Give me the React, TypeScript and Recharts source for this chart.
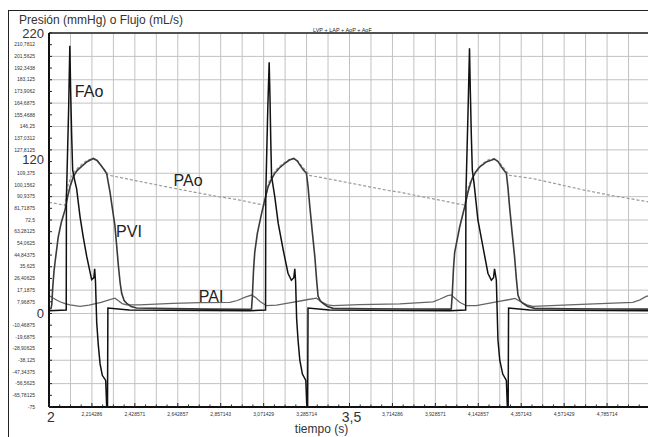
import React from 'react';
import { LineChart, Line, XAxis, YAxis, CartesianGrid, ReferenceDot } from 'recharts';

// [tiempo (s), valor]
const pviPoints: [number, number][] = [
  [2.0, 2.3], [2.01, 2.6], [2.014, 6], [2.019, 20], [2.025, 32], [2.03, 39], [2.046, 59], [2.062, 71],
  [2.08, 80.5], [2.093, 91], [2.105, 98.8], [2.121, 106.5], [2.14, 111.5], [2.163, 114.8], [2.19, 118.5],
  [2.221, 121], [2.24, 119.5], [2.26, 115.5], [2.278, 111.5], [2.288, 109], [2.296, 102], [2.304, 95],
  [2.316, 82], [2.329, 68], [2.338, 52], [2.346, 37], [2.355, 23], [2.363, 14.5], [2.375, 9], [2.388, 6.8],
  [2.41, 4.2], [2.437, 3.1], [2.6, 2.6], [2.8, 2.2], [3.0, 2.1],
  [3.011, 2.3], [3.015, 12], [3.021, 33], [3.027, 47], [3.04, 62], [3.061, 77.5], [3.078, 89], [3.094, 98.8],
  [3.11, 104.5], [3.127, 109.3], [3.15, 113.5], [3.177, 117.2], [3.2, 119.8], [3.222, 121.1], [3.24, 119],
  [3.252, 116], [3.27, 112], [3.285, 109.3], [3.293, 99], [3.302, 83], [3.315, 62], [3.327, 43.5],
  [3.336, 25], [3.343, 12.5], [3.355, 8.5], [3.368, 6.8], [3.39, 4.2], [3.418, 2.8], [3.6, 2.5], [3.8, 2.3],
  [4.0, 2.2],
  [4.008, 2.3], [4.013, 14], [4.019, 34], [4.025, 47], [4.05, 67], [4.075, 83], [4.092, 95], [4.108, 103.5],
  [4.128, 110], [4.15, 114.5], [4.185, 118.5], [4.224, 120.6], [4.242, 118.5], [4.258, 114.5], [4.272, 111.5],
  [4.283, 109.3], [4.291, 98], [4.299, 83], [4.312, 62], [4.324, 43.5], [4.333, 26], [4.341, 13.3],
  [4.352, 8.8], [4.366, 6.8], [4.39, 4.3], [4.424, 2.8], [4.6, 2.5], [4.8, 2.3], [5.0, 2.2],
];

const paoPoints: [number, number][] = [
  [2.0, 86.5], [2.04, 85.3], [2.079, 84], [2.086, 92], [2.095, 100], [2.105, 104.5], [2.121, 109.3],
  [2.145, 114], [2.171, 117.5], [2.195, 120], [2.221, 121], [2.245, 118.5], [2.265, 114.5], [2.28, 111.5],
  [2.29, 109.5], [2.294, 108], [2.4, 104.6], [2.55, 99.8], [2.7, 95.2], [2.85, 90.8], [2.953, 88.2],
  [3.03, 85.6], [3.077, 84.2],
  [3.086, 93], [3.094, 100.5], [3.102, 105], [3.127, 111], [3.15, 114.8], [3.177, 118], [3.2, 120.2],
  [3.222, 121.1], [3.245, 118.5], [3.265, 114.5], [3.285, 110.8], [3.293, 109.3], [3.296, 107.8],
  [3.4, 104.8], [3.55, 100.2], [3.7, 95.6], [3.751, 94.5], [3.85, 91.2], [3.95, 88.2], [4.03, 85.6],
  [4.075, 84.3],
  [4.085, 93], [4.095, 100], [4.116, 106.6], [4.14, 112], [4.166, 117.2], [4.195, 120.2], [4.224, 121.1],
  [4.248, 118], [4.266, 114.5], [4.283, 110.8], [4.291, 109.3], [4.295, 107.8], [4.415, 105.2],
  [4.55, 100.4], [4.665, 96.3], [4.8, 92.1], [4.9, 89.3], [5.0, 86.6],
];

const paiPoints: [number, number][] = [
  [2.0, 12], [2.006, 12.4], [2.02, 11], [2.04, 9.2], [2.055, 8], [2.08, 6.5], [2.105, 5.5], [2.155, 4.3],
  [2.2, 5.4], [2.26, 7.6], [2.3, 9.5], [2.329, 10.8], [2.345, 9], [2.365, 6.6], [2.388, 5.5], [2.45, 5.6],
  [2.618, 6.8], [2.753, 7.3], [2.903, 7.5], [2.94, 9], [2.98, 11.6], [3.011, 13.3],
  [3.03, 11.5], [3.055, 8], [3.086, 4.9], [3.136, 5.4], [3.2, 7.2], [3.26, 8.8], [3.3, 10], [3.335, 10.8],
  [3.36, 8], [3.39, 5.6], [3.418, 4.9], [3.55, 5.8], [3.751, 6.4], [3.917, 7.9], [3.95, 10], [3.99, 12.8],
  [4.008, 13.4], [4.025, 11], [4.05, 7.6], [4.083, 4.9], [4.133, 4.9], [4.233, 8], [4.3, 9.8], [4.326, 10.7],
  [4.355, 8], [4.385, 5.6], [4.415, 4.4], [4.657, 6], [4.914, 7.6], [4.95, 9.5], [4.981, 12.2], [5.0, 13],
];

const faoPoints: [number, number][] = [
  [2.0, 1], [2.086, 1.5], [2.087, 90], [2.098, 160], [2.104, 210], [2.108, 175], [2.113, 140], [2.118, 112],
  [2.128, 104], [2.138, 97], [2.155, 75], [2.171, 59], [2.188, 44], [2.204, 32], [2.213, 25.5], [2.224, 27],
  [2.228, 34], [2.232, 24], [2.238, -8], [2.246, -26], [2.255, -41], [2.266, -50], [2.283, -54], [2.288, -75],
  [2.292, -75], [2.294, 3], [2.4, 1.5], [3.0, 1],
  [3.081, 1.5], [3.082, 92], [3.092, 160], [3.099, 197], [3.103, 170], [3.107, 135], [3.111, 107],
  [3.127, 91], [3.144, 70], [3.169, 49], [3.193, 30.5], [3.21, 25], [3.222, 27], [3.227, 34], [3.231, 24],
  [3.236, -5], [3.243, -22], [3.252, -38], [3.265, -49], [3.282, -54], [3.287, -75], [3.291, -75],
  [3.293, 3], [3.4, 1.5], [4.0, 1],
  [4.08, 1.5], [4.081, 92], [4.092, 160], [4.099, 208], [4.103, 175], [4.108, 140], [4.113, 112],
  [4.122, 101], [4.141, 72.5], [4.166, 51.5], [4.191, 30.5], [4.208, 25], [4.219, 27], [4.224, 34],
  [4.233, 25], [4.241, -22], [4.25, -38], [4.265, -49], [4.283, -54], [4.288, -75], [4.292, -75],
  [4.294, 3], [4.4, 1.5], [5.0, 1],
];

const yTicks = [
  -75, -65.78125, -56.5625, -47.34375, -38.125, -28.90625, -19.6875, -10.46875, -1.25, 7.96875, 17.1875,
  26.40625, 35.625, 44.84375, 54.0625, 63.28125, 72.5, 81.71875, 90.9375, 100.15625, 109.375, 118.59375,
  127.8125, 137.03125, 146.25, 155.46875, 164.6875, 173.90625, 183.125, 192.34375, 201.5625, 210.78125, 220,
];
const yTickLabels = [
  '-75', '-65,78125', '-56,5625', '-47,34375', '-38,125', '-28,90625', '-19,6875', '-10,46875', '0', '7,96875',
  '17,1875', '26,40625', '35,625', '44,84375', '54,0625', '63,28125', '72,5', '81,71875', '90,9375',
  '100,1562', '109,375', '120', '127,8125', '137,0312', '146,25', '155,4688', '164,6875', '173,9062',
  '183,125', '192,3438', '201,5625', '210,7812', '220',
];
const bigYLabels = ['220', '120', '0'];

const xLabelTicks = [
  2, 2.214286, 2.428571, 2.642857, 2.857143, 3.071429, 3.285714, 3.5, 3.714286, 3.928571, 4.142857,
  4.357143, 4.571429, 4.785714, 5,
];
const xTickLabels = [
  '2', '2,214286', '2,428571', '2,642857', '2,857143', '3,071429', '3,285714', '3,5', '3,714286',
  '3,928571', '4,142857', '4,357143', '4,571429', '4,785714', '5',
];
const bigXLabels = ['2', '3,5', '5'];

const seriesNames = [
  { name: 'FAo', t: 2.2, v: 174 },
  { name: 'PAo', t: 2.694, v: 104 },
  { name: 'PVI', t: 2.399, v: 63.4 },
  { name: 'PAI', t: 2.809, v: 12.6 },
];

const FONT = '"Liberation Sans", Arial, sans-serif';
const xMinor = Array.from({ length: 57 }, (_, i) => 2 + (i * 1.5) / 28);
const xGrid = Array.from({ length: 29 }, (_, i) => 2 + (i * 1.5) / 14);
const yGrid = Array.from({ length: 17 }, (_, i) => -75 + i * 18.4375);

const rows = (pts: [number, number][]) => pts.map(([t, v]) => ({ t, v }));

const BottomTick = (props: any) => {
  const { x, y, payload } = props;
  const i = xLabelTicks.findIndex((v) => Math.abs(v - payload.value) < 1e-4);
  const label = i >= 0 ? xTickLabels[i] : null;
  const big = label !== null && bigXLabels.includes(label);
  return (
    <g>
      <line x1={x} x2={x} y1={y - (label ? 4 : 2.5)} y2={y} stroke="#222" strokeWidth={1} />
      {label && (
        <text
          x={x + (big ? 2 : 0)}
          y={y + (big ? 14.5 : 9)}
          textAnchor="middle"
          fontSize={big ? 14 : 5}
          fill="#333"
          fontFamily={FONT}
        >
          {label}
        </text>
      )}
    </g>
  );
};

const TopTick = (props: any) => {
  const { x, y } = props;
  return <line x1={x} x2={x} y1={y} y2={y + 3} stroke="#222" strokeWidth={1} />;
};

const LeftTick = (props: any) => {
  const { x, y, payload } = props;
  const i = yTicks.findIndex((v) => Math.abs(v - payload.value) < 1e-6);
  const label = yTickLabels[i];
  const big = bigYLabels.includes(label);
  return (
    <g>
      <line x1={x} x2={x + 3} y1={y} y2={y} stroke="#222" strokeWidth={1} />
      <text
        x={big ? x - 5 : x - 14}
        y={y + (big ? 4.5 : 1.7) + (label === '120' ? -2 : 0)}
        textAnchor="end"
        fontSize={big ? 13 : 5}
        fill="#333"
        fontFamily={FONT}
      >
        {label}
      </text>
    </g>
  );
};

export default function App() {
  return (
    <div style={{ position: 'relative', width: 648, height: 437, overflow: 'hidden', background: '#fff', fontFamily: FONT }}>
      <style>{'body{margin:0}'}</style>
      <div style={{ position: 'absolute', left: 8, top: 10, width: 700, height: 500, border: '1px solid #222' }} />
      <div style={{ position: 'absolute', left: 19, top: 14, fontSize: 12, lineHeight: '12px', color: '#333', whiteSpace: 'nowrap' }}>
        Presión (mmHg) o Flujo (mL/s)
      </div>
      <div style={{ position: 'absolute', left: 313, top: 28, fontSize: 5.5, lineHeight: '5px', color: '#222', whiteSpace: 'nowrap' }}>
        LVP + LAP + AoP + AoF
      </div>
      <div style={{ position: 'absolute', left: 0, top: 0 }}>
        <LineChart width={660} height={437} margin={{ top: 32, right: 10, left: 0, bottom: 0 }}>
          <CartesianGrid stroke="#c2c2c2" strokeWidth={1} horizontalValues={yGrid} verticalValues={xGrid} />
          <XAxis
            dataKey="t"
            type="number"
            domain={[2, 5]}
            ticks={xMinor}
            interval={0}
            height={30}
            tickSize={0}
            tickMargin={0}
            tickLine={false}
            tick={<BottomTick />}
            axisLine={{ stroke: '#111', strokeWidth: 2 }}
            label={{ value: 'tiempo (s)', position: 'insideBottom', offset: 4, dx: -28, fontSize: 12, fill: '#333' }}
          />
          <XAxis
            xAxisId="top"
            orientation="top"
            dataKey="t"
            type="number"
            domain={[2, 5]}
            ticks={xMinor}
            interval={0}
            height={1}
            tickSize={0}
            tickMargin={0}
            tickLine={false}
            tick={<TopTick />}
            axisLine={{ stroke: '#222', strokeWidth: 1.5 }}
          />
          <YAxis
            type="number"
            domain={[-75, 220]}
            ticks={yTicks}
            interval={0}
            width={49}
            tickSize={0}
            tickMargin={0}
            tickLine={false}
            tick={<LeftTick />}
            axisLine={{ stroke: '#111', strokeWidth: 2 }}
          />
          <Line data={rows(paoPoints)} dataKey="v" type="linear" stroke="#9a9a9a" strokeWidth={1.2} strokeDasharray="3 2" dot={false} isAnimationActive={false} />
          <Line data={rows(paiPoints)} dataKey="v" type="linear" stroke="#666" strokeWidth={1.3} dot={false} isAnimationActive={false} />
          <Line data={rows(pviPoints)} dataKey="v" type="linear" stroke="#3a3a3a" strokeWidth={1.6} dot={false} isAnimationActive={false} />
          <Line data={rows(faoPoints)} dataKey="v" type="linear" stroke="#111" strokeWidth={1.5} dot={false} isAnimationActive={false} />
          {seriesNames.map((s) => (
            <ReferenceDot
              key={s.name}
              x={s.t}
              y={s.v}
              r={1}
              fill="none"
              stroke="none"
              label={{ value: s.name, position: 'center', fontSize: 16, fill: '#222', fontFamily: FONT }}
            />
          ))}
        </LineChart>
      </div>
    </div>
  );
}
